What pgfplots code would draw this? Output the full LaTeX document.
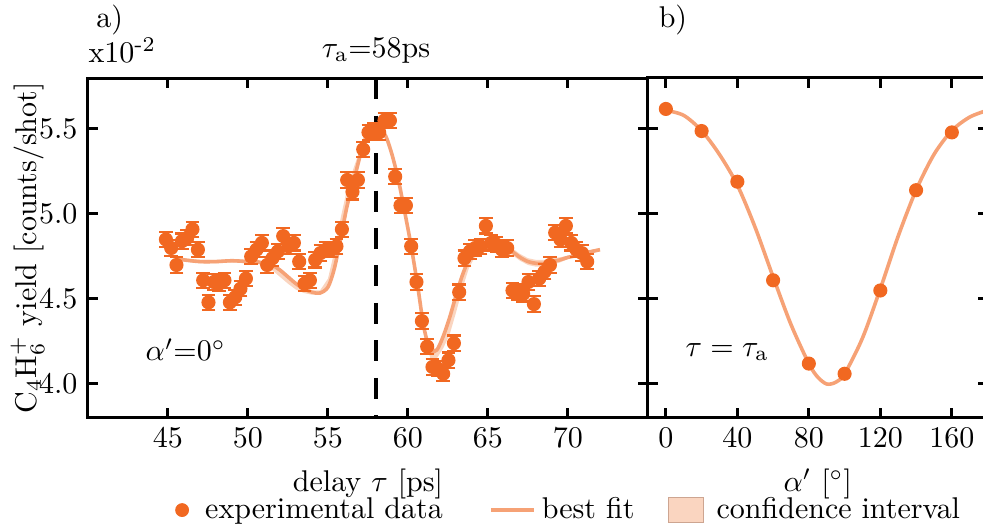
\documentclass[border=0pt]{standalone}
\usepackage{pgfplots}
\pgfplotsset{compat=1.18}
\definecolor{dataorange}{RGB}{241,104,33}
\definecolor{fitorange}{RGB}{246,162,118}
\definecolor{ci}{RGB}{250,213,192}
\definecolor{cibord}{RGB}{205,165,145}
\begin{document}
\begin{tikzpicture}
\pgfplotsset{
  every axis/.append style={scale only axis, anchor=south west,
    axis line style={line width=1pt}, tick style={line width=1pt, black},
    major tick length=3.3pt, tick align=inside, clip=false,
    ymin=3.8, ymax=5.8, ytick={4.0,4.5,5.0,5.5}, height=113.33pt},
  datastyle/.style={only marks, mark=*, mark size=2.15pt, color=dataorange,
    mark options={fill=dataorange, draw=dataorange},
    error bars/.cd, y dir=both, y fixed=0.045,
    error bar style={line width=0.7pt, dataorange},
    error mark options={rotate=90, mark size=2.3pt, line width=0.7pt, dataorange},
    /pgfplots/.cd},
}
\begin{axis}[at={(29.33pt,37pt)}, width=186.67pt,
  xmin=40, xmax=75, xtick={45,50,...,70},
  yticklabel style={/pgf/number format/.cd, fixed, fixed zerofill, precision=1},
  xlabel={delay $\tau$ [ps]},
  ylabel={C$_4$H$_6^+$ yield [counts/shot]},
  every axis y label/.style={at={(axis description cs:-0.108,0.5)}, rotate=90, anchor=center},
  legend style={at={(0.1547,-0.2709)}, anchor=west, draw=none, fill=none,
    inner sep=0pt, outer sep=0pt, legend columns=3,
    /tikz/column sep=0pt},
  legend cell align=left]
\addlegendimage{legend image code/.code={\path[draw=none, fill=none] (-2.5pt,0) -- (5.7pt,0);
   \fill[dataorange] (0pt,0pt) circle (2.1pt);}}
\addlegendentry{experimental data}
\addlegendimage{legend image code/.code={\path[draw=none, fill=none] (-14pt,0) -- (14.4pt,0);
   \draw[fitorange, line width=1.2pt] (0pt,0pt) -- (14.4pt,0pt);}}
\addlegendentry{best fit}
\addlegendimage{legend image code/.code={\path[draw=none, fill=none] (-9.4pt,0) -- (14pt,0);
   \draw[fill=ci, draw=cibord, line width=0.4pt] (0pt,-4.2pt) rectangle (11.6pt,4.2pt);}}
\addlegendentry{confidence interval}
% confidence band
\addplot[fill=ci, draw=none, forget plot] coordinates {
(45.5,4.75) (46,4.74) (47,4.73) (48,4.73) (49,4.735) (50,4.73) (50.5,4.73) (51,4.72) (51.5,4.71) (52,4.68) (52.5,4.64) (53,4.60) (53.5,4.57) (54,4.55) (54.5,4.55) (55,4.62) (55.4,4.78) (55.8,4.98) (56.2,5.15) (56.6,5.27) (57,5.38) (57.4,5.48) (57.8,5.53) (58.2,5.51) (58.6,5.47) (59,5.36) (59.4,5.21) (59.8,5.02) (60.2,4.82) (60.6,4.59) (61,4.34) (61.4,4.21) (61.8,4.21) (62.2,4.29) (62.6,4.40) (63,4.53) (63.4,4.65) (63.8,4.74) (64.2,4.78) (64.6,4.81) (65,4.825) (65.5,4.83) (66,4.825) (66.5,4.80) (67,4.765) (67.5,4.74) (68,4.73) (68.5,4.73) (69,4.74) (69.5,4.745) (70,4.755) (70.5,4.765) (71,4.78) (71.5,4.79) (72,4.80)
(72,4.78) (71.5,4.77) (71,4.76) (70.5,4.745) (70,4.735) (69.5,4.715) (69,4.70) (68.5,4.69) (68,4.69) (67.5,4.70) (67,4.725) (66.5,4.76) (66,4.795) (65.5,4.81) (65,4.805) (64.6,4.79) (64.2,4.75) (63.8,4.68) (63.4,4.56) (63,4.42) (62.6,4.29) (62.2,4.21) (61.8,4.15) (61.4,4.15) (61,4.29) (60.6,4.56) (60.2,4.80) (59.8,5.00) (59.4,5.19) (59,5.34) (58.6,5.45) (58.2,5.49) (57.8,5.51) (57.4,5.44) (57,5.32) (56.6,5.17) (56.2,5.03) (55.8,4.84) (55.4,4.67) (55,4.56) (54.5,4.525) (54,4.525) (53.5,4.535) (53,4.555) (52.5,4.59) (52,4.63) (51.5,4.67) (51,4.695) (50.5,4.71) (50,4.71) (49,4.715) (48,4.71) (47,4.71) (46,4.72) (45.5,4.73)
} -- cycle;
% best fit
\addplot[fitorange, line width=1.2pt, smooth, forget plot] coordinates {
(45.5,4.74) (46,4.73) (47,4.72) (48,4.72) (49,4.725) (50,4.72) (50.5,4.72) (51,4.71) (51.5,4.70) (52,4.67) (52.5,4.63) (53,4.59) (53.5,4.56) (54,4.54) (54.5,4.535) (55,4.57) (55.4,4.68) (55.8,4.86) (56.2,5.05) (56.6,5.19) (57,5.34) (57.4,5.46) (57.8,5.52) (58.2,5.50) (58.6,5.46) (59,5.35) (59.4,5.20) (59.8,5.01) (60.2,4.81) (60.6,4.58) (61,4.33) (61.4,4.20) (61.8,4.20) (62.2,4.28) (62.6,4.39) (63,4.52) (63.4,4.64) (63.8,4.73) (64.2,4.77) (64.6,4.80) (65,4.815) (65.5,4.82) (66,4.81) (66.5,4.78) (67,4.745) (67.5,4.72) (68,4.71) (68.5,4.71) (69,4.72) (69.5,4.73) (70,4.745) (70.5,4.755) (71,4.77) (71.5,4.78) (72,4.79)
};
% dashed line at tau_a
\addplot[black, line width=1.2pt, dash pattern=on 7pt off 5.5pt, forget plot] coordinates {(58,5.8) (58,3.8)};
% data
\addplot[forget plot, datastyle] coordinates {
(44.87,4.85) (45.2,4.80) (45.53,4.70) (45.87,4.84) (46.2,4.86) (46.53,4.91) (46.87,4.79) (47.2,4.61) (47.53,4.48) (47.87,4.60) (48.2,4.59) (48.53,4.61) (48.87,4.48) (49.2,4.51) (49.53,4.56) (49.87,4.62) (50.2,4.75) (50.53,4.79) (50.87,4.83) (51.2,4.70) (51.53,4.74) (51.87,4.78) (52.2,4.87) (52.53,4.81) (52.87,4.83) (53.2,4.72) (53.53,4.59) (53.87,4.61) (54.2,4.73) (54.53,4.77) (54.87,4.79) (55.2,4.79) (55.53,4.81) (55.87,4.91) (56.2,5.20) (56.53,5.13) (56.87,5.20) (57.2,5.38) (57.53,5.48) (57.87,5.49) (58.2,5.48) (58.53,5.55) (58.87,5.55) (59.2,5.22) (59.53,5.05) (59.87,5.05) (60.2,4.81) (60.53,4.60) (60.87,4.37) (61.2,4.22) (61.53,4.10) (61.87,4.09) (62.2,4.06) (62.53,4.14) (62.87,4.24) (63.2,4.54) (63.53,4.74) (63.87,4.78) (64.2,4.80) (64.53,4.81) (64.87,4.93) (65.2,4.83) (65.53,4.82) (65.87,4.79) (66.2,4.80) (66.53,4.55) (66.87,4.54) (67.2,4.53) (67.53,4.60) (67.87,4.47) (68.2,4.62) (68.53,4.66) (68.87,4.70) (69.2,4.89) (69.53,4.85) (69.87,4.93) (70.2,4.83) (70.53,4.79) (70.87,4.77) (71.2,4.72)
};
\node[anchor=center] at (rel axis cs:0.039,1.171) {a)};
\node[anchor=west, inner sep=0pt] at (rel axis cs:0,1.082) {x10\textsuperscript{-2}};
\node[anchor=center] at (axis cs:58,5.965) {$\tau_{\mathrm{a}}$=58ps};
\node[anchor=west, inner sep=0pt] at (rel axis cs:0.102,0.2) {$\alpha'$=0$^\circ$};
\end{axis}
\begin{axis}[at={(216pt,37pt)}, width=113.2pt,
  xmin=-10, xmax=180, xtick={0,40,...,160}, yticklabel=\empty,
  xlabel={$\alpha'$ [$^\circ$]}]
\addplot[fitorange, line width=1.2pt, smooth] coordinates {
(0,5.61) (10,5.58) (20,5.49) (30,5.35) (40,5.17) (50,4.92) (60,4.63) (70,4.35) (80,4.12) (85,4.04) (90,4.00) (95,4.01) (100,4.06) (110,4.27) (120,4.56) (130,4.87) (140,5.14) (150,5.35) (160,5.49) (170,5.57) (180,5.61)
};
\addplot[only marks, mark=*, mark size=2.15pt, dataorange] coordinates {
(0,5.618) (20,5.488) (40,5.19) (60,4.61) (80,4.12) (100,4.06) (120,4.55) (140,5.14) (160,5.48)
};
\node[anchor=center] at (rel axis cs:0.0735,1.171) {b)};
\node[anchor=west, inner sep=0pt] at (rel axis cs:0.109,0.194) {$\tau=\tau_{\mathrm{a}}$};
\end{axis}
\pgfresetboundingbox
\useasboundingbox (0,0) rectangle (327.67pt,176.33pt);
\end{tikzpicture}
\end{document}
